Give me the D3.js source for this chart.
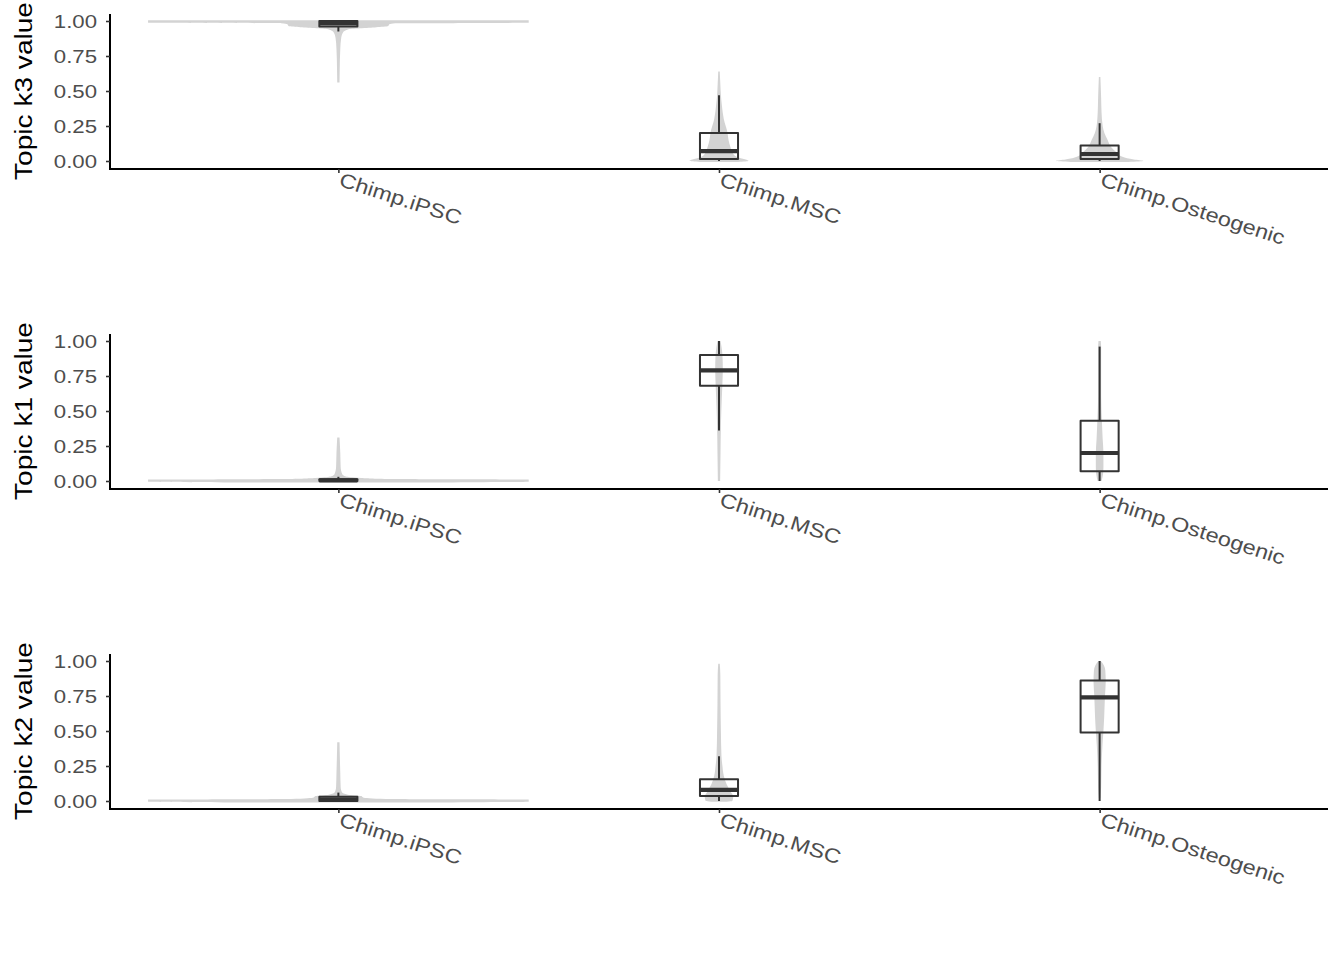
<!DOCTYPE html>
<html><head><meta charset="utf-8">
<script src="https://cdn.jsdelivr.net/npm/d3@7"></script>
<style>body{margin:0;background:#fff}</style>
</head><body>
<svg id="c" width="1344" height="960"></svg>
<script>
const categories = ["Chimp.iPSC", "Chimp.MSC", "Chimp.Osteogenic"];
const topics = ["k3", "k1", "k2"];
const yTicks = [0, 0.25, 0.5, 0.75, 1.0];

// box stats per category: [lower whisker, q1, median, q3, upper whisker]
const boxK3 = [[0.925, 0.96, 0.985, 1.0, 1.0], [0.0, 0.015, 0.07, 0.20, 0.47], [0.0, 0.015, 0.05, 0.11, 0.27]];
const boxK1 = [[0.0, 0.0, 0.004, 0.012, 0.03], [0.36, 0.68, 0.79, 0.90, 1.0], [0.0, 0.07, 0.20, 0.43, 0.96]];
const boxK2 = [[0.0, 0.0, 0.01, 0.03, 0.06], [0.0, 0.035, 0.08, 0.155, 0.32], [0.0, 0.49, 0.74, 0.86, 1.0]];

// violin density profiles per category: [value, relative density (1 = widest)]
const violinK3 = [
  [[0.56, 0.006], [0.65, 0.007], [0.8, 0.01], [0.88, 0.015], [0.92, 0.025], [0.94, 0.05], [0.955, 0.2], [0.962, 0.26], [0.978, 0.27], [0.984, 0.3], [0.987, 1.0], [1.006, 1.0]],
  [[-0.007, 0.1], [0.0, 0.155], [0.01, 0.14], [0.025, 0.1], [0.05, 0.075], [0.1, 0.06], [0.15, 0.05], [0.2, 0.045], [0.3, 0.025], [0.4, 0.015], [0.47, 0.01], [0.55, 0.007], [0.64, 0.004]],
  [[-0.007, 0.15], [0.0, 0.23], [0.01, 0.18], [0.03, 0.12], [0.06, 0.09], [0.1, 0.06], [0.15, 0.042], [0.2, 0.025], [0.25, 0.016], [0.35, 0.01], [0.45, 0.008], [0.6, 0.004]]
];
const violinK1 = [
  [[-0.01, 0.6], [-0.006, 1.0], [0.01, 1.0], [0.014, 0.3], [0.022, 0.12], [0.032, 0.04], [0.05, 0.02], [0.1, 0.012], [0.2, 0.01], [0.31, 0.006]],
  [[0.0, 0.006], [0.2, 0.008], [0.4, 0.01], [0.6, 0.015], [0.7, 0.018], [0.8, 0.02], [0.9, 0.018], [0.95, 0.014], [1.0, 0.008]],
  [[0.0, 0.01], [0.05, 0.018], [0.1, 0.02], [0.2, 0.02], [0.3, 0.016], [0.43, 0.012], [0.6, 0.008], [0.8, 0.008], [0.95, 0.008], [1.0, 0.006]]
];
const violinK2 = [
  [[-0.01, 0.6], [-0.006, 1.0], [0.01, 1.0], [0.014, 0.25], [0.025, 0.13], [0.035, 0.12], [0.045, 0.05], [0.06, 0.02], [0.1, 0.012], [0.2, 0.01], [0.3, 0.008], [0.42, 0.006]],
  [[-0.005, 0.04], [0.0, 0.07], [0.03, 0.075], [0.07, 0.06], [0.12, 0.04], [0.18, 0.025], [0.25, 0.018], [0.32, 0.013], [0.5, 0.01], [0.7, 0.008], [0.9, 0.007], [0.98, 0.004]],
  [[0.02, 0.004], [0.1, 0.008], [0.25, 0.01], [0.4, 0.015], [0.5, 0.02], [0.6, 0.024], [0.75, 0.028], [0.85, 0.032], [0.93, 0.03], [0.97, 0.022], [1.0, 0.006]]
];

const boxes = [boxK3, boxK1, boxK2];
const violins = [violinK3, violinK1, violinK2];

const svg = d3.select("#c");
const x = d3.scalePoint().domain(categories).range([110, 1328]).padding(0.6);
const y = d3.scaleLinear().domain([-0.05, 1.05]).range([168, 14]);
const step = x.step();
const half = step / 2;
const bw = step * 0.1;
const stretch = "scale(1.17,1)";
const font = "Liberation Sans, Arial, sans-serif";

topics.forEach((t, i) => {
  const g = svg.append("g").attr("transform", `translate(0,${i * 320})`);

  // violins
  violins[i].forEach((prof, j) => {
    const cx = x(categories[j]);
    const area = d3.area()
      .y(d => y(d[0]))
      .x0(d => cx - d[1] * half)
      .x1(d => cx + d[1] * half)
      .curve(d3.curveMonotoneY);
    g.append("path").attr("d", area(prof)).attr("fill", "#d3d3d3").attr("stroke", "none");
  });

  // boxplots
  boxes[i].forEach((b, j) => {
    const cx = x(categories[j]);
    const [lo, q1, med, q3, hi] = b;
    const bg = g.append("g").attr("stroke", "#333333").attr("fill", "none").attr("stroke-linejoin", "round");
    bg.append("line").attr("x1", cx).attr("x2", cx).attr("y1", y(q3)).attr("y2", y(hi)).attr("stroke-width", 2);
    bg.append("line").attr("x1", cx).attr("x2", cx).attr("y1", y(q1)).attr("y2", y(lo)).attr("stroke-width", 2);
    bg.append("rect").attr("x", cx - bw / 2).attr("width", bw)
      .attr("y", y(q3)).attr("height", Math.max(0, y(q1) - y(q3))).attr("stroke-width", 2);
    bg.append("line").attr("x1", cx - bw / 2).attr("x2", cx + bw / 2).attr("y1", y(med)).attr("y2", y(med)).attr("stroke-width", 4.2);
  });

  // y axis
  const ya = g.append("g").attr("transform", "translate(110,0)")
    .call(d3.axisLeft(y).tickValues(yTicks).tickFormat(d3.format(".2f")).tickSize(4).tickSizeOuter(0).tickPadding(10));
  ya.select(".domain").attr("stroke", "#000").attr("stroke-width", 2).attr("d", `M0,${y.range()[1]}V169`);
  ya.selectAll(".tick line").attr("stroke", "#333").attr("stroke-width", 1.6);
  ya.selectAll(".tick text")
    .attr("x", null).attr("dy", null)
    .attr("transform", `translate(-13,6.8) ${stretch}`)
    .attr("font-family", font).attr("font-size", 19).attr("fill", "#4d4d4d");

  // x axis
  const xa = g.append("g").attr("transform", "translate(0,169)")
    .call(d3.axisBottom(x).tickSize(4).tickSizeOuter(0));
  xa.select(".domain").attr("stroke", "#000").attr("stroke-width", 2).attr("d", "M109,0H1328");
  xa.selectAll(".tick line").attr("stroke", "#333").attr("stroke-width", 1.6);
  xa.selectAll(".tick text")
    .attr("y", null).attr("dy", null)
    .attr("text-anchor", "start")
    .attr("transform", `translate(-1,16.5) rotate(18) ${stretch}`)
    .attr("font-family", font).attr("font-size", 20).attr("fill", "#4d4d4d");

  // y title
  g.append("text")
    .attr("transform", `translate(32,91) rotate(-90) ${stretch}`)
    .attr("text-anchor", "middle")
    .attr("font-family", font).attr("font-size", 24).attr("fill", "#000")
    .text(`Topic ${t} value`);
});
</script>
</body></html>
